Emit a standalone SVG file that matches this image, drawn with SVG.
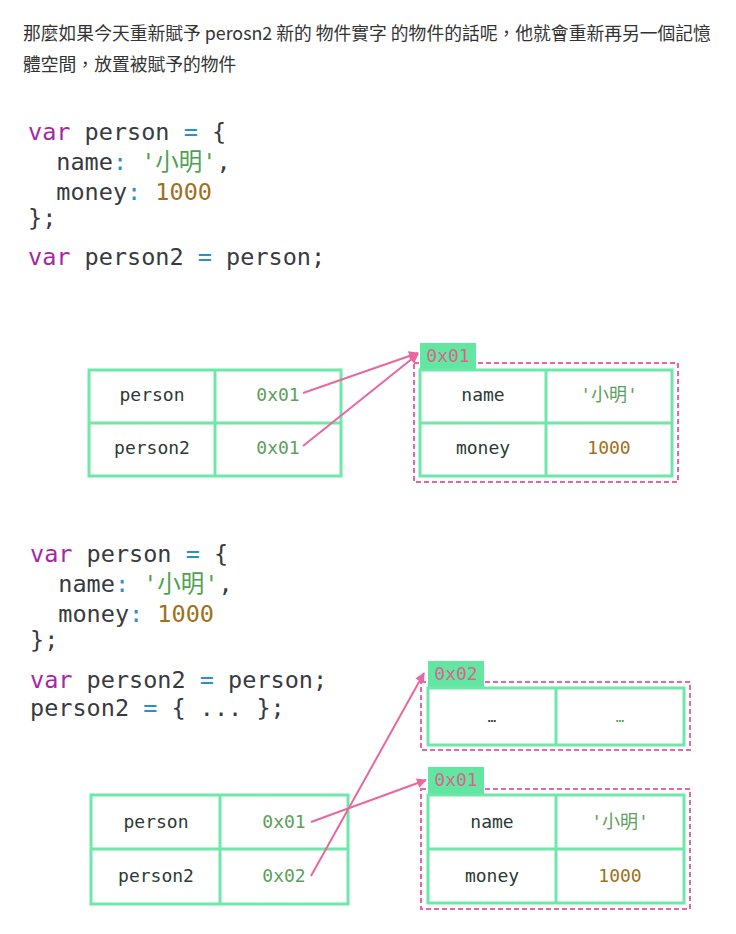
<svg xmlns="http://www.w3.org/2000/svg" width="736" height="934" viewBox="0 0 736 934">
<style>
.intro{font-family:"Noto Sans CJK TC","Noto Sans",sans-serif;font-size:17.8px;fill:#333}
.code{font-family:"DejaVu Sans Mono","Noto Sans CJK TC",monospace;font-size:23.5px;fill:#383a42}
.kw{fill:#a626a4}.op{fill:#2b8fcf}.str{fill:#50a14f}.num{fill:#a0701a}
.cell{fill:#fff;stroke:#6ee8a8;stroke-width:3}
.div{stroke:#6ee8a8;stroke-width:3}
.t{font-family:"DejaVu Sans Mono","Noto Sans CJK TC",monospace;font-size:18px;fill:#2b3a34;text-anchor:middle}
.addr{fill:#5c9e5c}.tstr{fill:#5c9e5c}.tnum{fill:#a0701a}
.tab{fill:#62e6a2}
.tabt{font-family:"DejaVu Sans Mono",monospace;font-size:18px;fill:#d9668f;text-anchor:middle}
.dash{fill:none;stroke:#e8679f;stroke-width:2;stroke-dasharray:5 3}
.arrow{stroke:#e8679f;stroke-width:2;fill:none;marker-end:url(#ah)}
</style>
<defs>
<marker id="ah" viewBox="0 0 10 10" refX="9" refY="5" markerWidth="5" markerHeight="5" orient="auto" markerUnits="strokeWidth">
<path d="M0,0 L10,5 L0,10 z" fill="#e8679f"/>
</marker>
</defs>
<rect width="736" height="934" fill="#fff"/>
<g id="intro">
<text class="intro" x="23" y="40">那麼如果今天重新賦予 perosn2 新的 物件實字 的物件的話呢，他就會重新再另一個記憶</text>
<text class="intro" x="23" y="71">體空間，放置被賦予的物件</text>
</g>
<g id="code1" class="code">
<text x="28" y="140" xml:space="preserve"><tspan class="kw">var</tspan> person <tspan class="op">=</tspan> {</text>
<text x="28" y="170" xml:space="preserve">  name<tspan class="op">:</tspan> <tspan class="str">'小明'</tspan>,</text>
<text x="28" y="200" xml:space="preserve">  money<tspan class="op">:</tspan> <tspan class="num">1000</tspan></text>
<text x="28" y="226">};</text>
<text x="28" y="265" xml:space="preserve"><tspan class="kw">var</tspan> person2 <tspan class="op">=</tspan> person;</text>
</g>
<g id="vars1">
<rect class="cell" x="89" y="370" width="252" height="106"/>
<line class="div" x1="215" y1="370" x2="215" y2="476"/>
<line class="div" x1="89" y1="423" x2="341" y2="423"/>
<text class="t" x="152" y="401">person</text>
<text class="t addr" x="278" y="401">0x01</text>
<text class="t" x="152" y="454">person2</text>
<text class="t addr" x="278" y="454">0x01</text>
</g>
<g id="obj1">
<rect class="dash" x="414" y="363" width="264" height="119"/>
<rect class="tab" x="420" y="343" width="56" height="27"/>
<text class="tabt" x="448" y="362">0x01</text>
<rect class="cell" x="420" y="370" width="252" height="106"/>
<line class="div" x1="546" y1="370" x2="546" y2="476"/>
<line class="div" x1="420" y1="423" x2="672" y2="423"/>
<text class="t" x="483" y="401">name</text>
<text class="t tstr" x="609" y="401">'小明'</text>
<text class="t" x="483" y="454">money</text>
<text class="t tnum" x="609" y="454">1000</text>
</g>
<g id="code2" class="code">
<text x="30" y="562" xml:space="preserve"><tspan class="kw">var</tspan> person <tspan class="op">=</tspan> {</text>
<text x="30" y="592" xml:space="preserve">  name<tspan class="op">:</tspan> <tspan class="str">'小明'</tspan>,</text>
<text x="30" y="622" xml:space="preserve">  money<tspan class="op">:</tspan> <tspan class="num">1000</tspan></text>
<text x="30" y="648">};</text>
<text x="30" y="688" xml:space="preserve"><tspan class="kw">var</tspan> person2 <tspan class="op">=</tspan> person;</text>
<text x="30" y="716" xml:space="preserve">person2 <tspan class="op">=</tspan> { ... };</text>
</g>
<g id="vars2">
<rect class="cell" x="91" y="795" width="257" height="109"/>
<line class="div" x1="220" y1="795" x2="220" y2="904"/>
<line class="div" x1="91" y1="849" x2="348" y2="849"/>
<text class="t" x="156" y="828">person</text>
<text class="t addr" x="284" y="828">0x01</text>
<text class="t" x="156" y="882">person2</text>
<text class="t addr" x="284" y="882">0x02</text>
</g>
<g id="obj2">
<rect class="dash" x="421" y="682" width="269" height="68"/>
<rect class="tab" x="428" y="661" width="56" height="27"/>
<text class="tabt" x="456" y="680">0x02</text>
<rect class="cell" x="428" y="688" width="256" height="57"/>
<line class="div" x1="556" y1="688" x2="556" y2="745"/>
<text class="t" x="492" y="722" style="font-size:14px">…</text>
<text class="t addr" x="620" y="722" style="font-size:14px">…</text>
</g>
<g id="obj3">
<rect class="dash" x="421" y="789" width="269" height="120"/>
<rect class="tab" x="428" y="767" width="56" height="28"/>
<text class="tabt" x="456" y="786">0x01</text>
<rect class="cell" x="428" y="795" width="256" height="108"/>
<line class="div" x1="556" y1="795" x2="556" y2="903"/>
<line class="div" x1="428" y1="849" x2="684" y2="849"/>
<text class="t" x="492" y="828">name</text>
<text class="t tstr" x="620" y="828">'小明'</text>
<text class="t" x="492" y="882">money</text>
<text class="t tnum" x="620" y="882">1000</text>
</g>
<g id="connectors">
<line class="arrow" x1="303" y1="393" x2="418" y2="353"/>
<line class="arrow" x1="303" y1="446" x2="418" y2="354"/>
<line class="arrow" x1="311" y1="822" x2="426" y2="780"/>
<line class="arrow" x1="311" y1="876" x2="424" y2="673"/>
</g>
</svg>
